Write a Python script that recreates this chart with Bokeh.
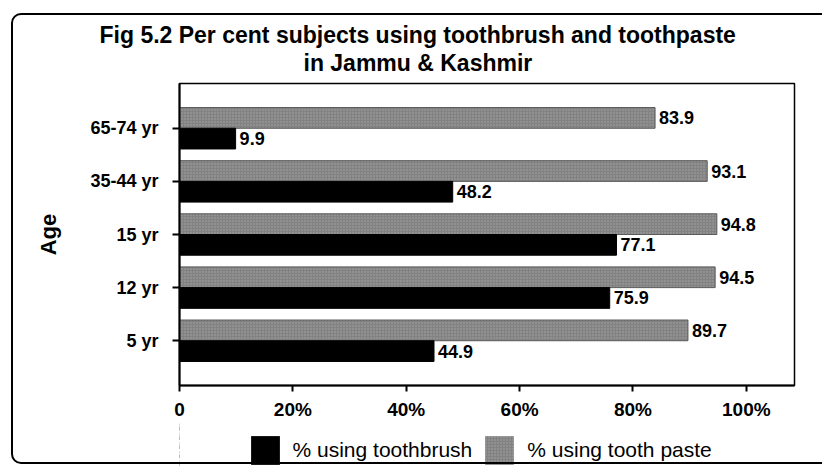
from bokeh.plotting import figure
from bokeh.layouts import column
from bokeh.models import (FactorRange, Range1d, Legend, LegendItem, Title,
                          ColumnDataSource, FixedTicker, InlineStyleSheet)
from bokeh.transform import dodge
from bokeh.core.properties import value
from bokeh.embed import file_html
from bokeh.resources import INLINE

# ---- data ----
title_lines = ["Fig 5.2 Per cent subjects using toothbrush and toothpaste",
               "in Jammu & Kashmir"]
ages = ["5 yr", "12 yr", "15 yr", "35-44 yr", "65-74 yr"]
toothbrush = [44.9, 75.9, 77.1, 48.2, 9.9]
toothpaste = [89.7, 94.5, 94.8, 93.1, 83.9]
x_ticks = [0, 20, 40, 60, 80, 100]
x_tick_labels = ["0", "20%", "40%", "60%", "80%", "100%"]
series_names = ["% using toothbrush", "% using tooth paste"]
axis_title = "Age"

FONT = "Liberation Sans"

src = ColumnDataSource(dict(
    age=ages, brush=toothbrush, paste=toothpaste,
    brush_lbl=[f"{v:.1f}" for v in toothbrush],
    paste_lbl=[f"{v:.1f}" for v in toothpaste],
))

BAR_H = 0.39
OFF = 0.195
PASTE_FILL = dict(fill_color="#828282", hatch_pattern="dot",
                  hatch_color="#bdbdbd", hatch_scale=3, hatch_weight=1,
                  hatch_alpha=0.6)
BRUSH_FILL = dict(fill_color="black")

# ---------------- main chart ----------------
p = figure(frame_width=615, frame_height=302,
           y_range=FactorRange(factors=ages, range_padding=0.137),
           x_range=Range1d(0, 108.5),
           output_backend="svg", toolbar_location=None,
           min_border_left=179, min_border_right=28,
           min_border_top=83, min_border_bottom=0)

p.hbar(y=dodge("age", OFF, range=p.y_range), left=0, right="paste",
       height=BAR_H, source=src, line_color="#5a5a5a", line_width=1,
       **PASTE_FILL)
p.hbar(y=dodge("age", -OFF, range=p.y_range), left=0, right="brush",
       height=BAR_H, source=src, line_color="black", **BRUSH_FILL)

common = dict(source=src, x_offset=4, text_baseline="middle", text_align="left",
              text_font=value(FONT), text_font_style="bold",
              text_font_size="18px", text_color="black")
p.text(x="paste", y=dodge("age", OFF, range=p.y_range), text="paste_lbl", **common)
p.text(x="brush", y=dodge("age", -OFF, range=p.y_range), text="brush_lbl", **common)

p.xgrid.visible = False
p.ygrid.visible = False
p.outline_line_color = "black"
p.outline_line_width = 1.5
p.background_fill_color = "white"
p.border_fill_color = "white"

xa = p.xaxis[0]
xa.ticker = FixedTicker(ticks=x_ticks)
xa.major_label_overrides = {t: l for t, l in zip(x_ticks, x_tick_labels)}
xa.axis_line_width = 2
xa.major_tick_line_width = 2
xa.major_tick_in = 0
xa.major_tick_out = 6
xa.minor_tick_line_color = None
xa.major_label_standoff = 7
xa.major_label_text_font = FONT
xa.major_label_text_font_style = "bold"
xa.major_label_text_font_size = "19px"
xa.major_label_text_color = "black"

ya = p.yaxis[0]
ya.axis_label = axis_title
ya.axis_label_text_font = FONT
ya.axis_label_text_font_style = "bold"
ya.axis_label_text_font_size = "22px"
ya.axis_label_text_color = "black"
ya.axis_label_standoff = 26
ya.axis_line_width = 2
ya.major_tick_line_width = 2
ya.major_tick_in = 0
ya.major_tick_out = 7
ya.major_label_standoff = 14
ya.major_label_text_font = FONT
ya.major_label_text_font_style = "bold"
ya.major_label_text_font_size = "18px"
ya.major_label_text_color = "black"

# titles: spacer nearest the frame, then line 2, then line 1
TS = "23px"
p.add_layout(Title(text=" ", text_font_size="5px", standoff=0), "above")
p.add_layout(Title(text=title_lines[1], align="left", offset=124,
                   text_font=FONT, text_font_style="bold", text_font_size=TS,
                   text_color="black", standoff=0), "above")
p.add_layout(Title(text=title_lines[0], align="left", offset=-80,
                   text_font=FONT, text_font_style="bold", text_font_size=TS,
                   text_color="black", standoff=0), "above")

# ---------------- legend strip ----------------
lg = figure(width=822, height=46,
            y_range=FactorRange(factors=ages), x_range=Range1d(200, 300),
            output_backend="svg", toolbar_location=None,
            x_axis_location=None, y_axis_location=None,
            min_border=0, min_border_left=0, min_border_right=0,
            min_border_top=0, min_border_bottom=0)
lg.xgrid.visible = False
lg.ygrid.visible = False
lg.outline_line_color = None
lg.background_fill_alpha = 0
lg.border_fill_alpha = 0

lr_brush = lg.hbar(y=dodge("age", -OFF, range=lg.y_range), left=0,
                   right="brush", height=BAR_H, source=src, line_color=None,
                   **BRUSH_FILL)
lr_paste = lg.hbar(y=dodge("age", OFF, range=lg.y_range), left=0,
                   right="paste", height=BAR_H, source=src, line_color=None,
                   **PASTE_FILL)

legend = Legend(items=[LegendItem(label=series_names[0], renderers=[lr_brush]),
                       LegendItem(label=series_names[1], renderers=[lr_paste])],
                orientation="horizontal", location=(67.5, 0),
                glyph_width=36, glyph_height=36, label_standoff=10, spacing=9,
                padding=5, margin=0, border_line_color=None,
                background_fill_alpha=0,
                label_text_font=FONT, label_text_font_size="21px",
                label_text_color="black")
lg.add_layout(legend, "center")

layout = column(p, lg, spacing=0)

# outer rounded border drawn by CSS over the whole layout
layout.stylesheets = [InlineStyleSheet(css="""
:host { position: relative; }
:host::after {
  content: '';
  position: absolute;
  left: 11px; top: 13px; width: 880px; height: 451px;
  border: 2.5px solid black; border-radius: 10px;
  box-sizing: border-box; pointer-events: none; z-index: 10;
}
""")]

open("out.html", "w").write(file_html(layout, INLINE))
